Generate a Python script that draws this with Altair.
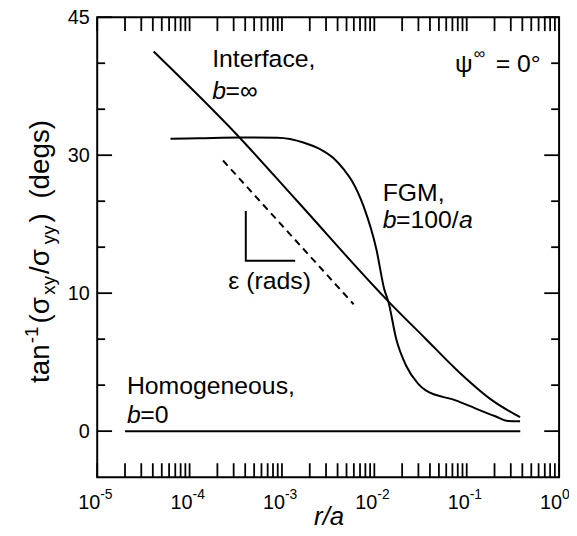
import altair as alt
import pandas as pd

W, H = 466, 464
X0, Y0 = 98, 15
FONT = "Liberation Sans"

# ---- data (r/a, degrees) ----
int_r = [4.08e-5, 3.49e-4, 1.46e-3, 1.416e-2, 3.61e-2, 8.17e-2, 0.189, 0.378]
int_deg = [41.27, 31.9, 23.36, 9.41, 6.68, 4.31, 2.23, 1.01]

fgm_r = [6.21e-5, 1.24e-4, 3.49e-4, 8.93e-4, 1.738e-3, 2.583e-3, 3.648e-3,
         4.67e-3, 5.69e-3, 7.64e-3, 1.055e-2, 1.282e-2, 1.416e-2,
         1.726e-2, 2.21e-2, 2.97e-2, 3.61e-2, 7.59e-2, 0.124, 0.204, 0.281, 0.378]
fgm_deg = [31.79, 31.84, 31.93, 31.9, 31.36, 30.66, 29.51,
           27.93, 26.35, 22.61, 16.29, 10.55, 9.41,
           6.68, 4.74, 3.45, 2.95, 2.23, 1.65, 1.08, 0.74, 0.72]

hom_r = [2e-5, 0.38]
hom_deg = [0, 0]

dash_r = [2.30e-4, 5.97e-3]
dash_deg = [29.23, 9.20]

tri_r = [4.06e-4, 4.06e-4, 1.39e-3]
tri_deg = [21.9, 14.71, 14.71]

decades = [1e-5, 1e-4, 1e-3, 1e-2, 1e-1, 1.0]
exponents = ["-5", "-4", "-3", "-2", "-1", "0"]
mantissas = [1, 2, 3, 4, 5, 6, 7, 8, 9]

y_major = [0, 10, 30, 45]
y_minor = [10 / 3, 20 / 3, 50 / 3, 70 / 3, 35, 40]

# ---- scales ----
xscale = alt.Scale(type="log", domain=[1e-5, 1], nice=False)
yscale = alt.Scale(type="linear", domain=[-10 / 3, 0, 10, 30, 45],
                   range=[H, H * 0.9, H * 0.6, H * 0.3, 0], nice=False, zero=False)
xaxis = alt.Axis(labels=False, ticks=False, domain=False, grid=False, title=None)
yaxis = alt.Axis(values=y_major, ticks=False, tickSize=0, domain=False, grid=False,
                 title=None, labelFontSize=20, labelPadding=8, labelFont=FONT,
                 labelColor="black")

X = alt.X("r:Q", scale=xscale, axis=xaxis)
Y = alt.Y("deg:Q", scale=yscale, axis=yaxis)


def curve(rs, ds, dash=None, interp="monotone"):
    df = pd.DataFrame({"r": rs, "deg": ds})
    kw = dict(color="black", strokeWidth=2, interpolate=interp)
    if dash:
        kw["strokeDash"] = dash
    return alt.Chart(df).mark_line(**kw).encode(x=X, y=Y)


def label(text, px, py, size=25, style="normal", align="left", angle=0):
    return alt.Chart(alt.Data(values=[{}])).mark_text(
        text=text, align=align, baseline="alphabetic", fontSize=size,
        fontStyle=style, font=FONT, color="black", angle=angle
    ).encode(x=alt.value(px - X0), y=alt.value(py - Y0))


layers = []
layers.append(curve(int_r, int_deg))
layers.append(curve(fgm_r, fgm_deg))
layers.append(curve(hom_r, hom_deg, interp="linear"))
layers.append(curve(dash_r, dash_deg, dash=[7, 5], interp="linear"))
tri = pd.DataFrame({"r": tri_r, "deg": tri_deg, "o": [0, 1, 2]})
layers.append(alt.Chart(tri).mark_line(color="black", strokeWidth=2).encode(
    x=X, y=Y, order="o:Q"))

# x ticks (inward, bottom & top)
xt = pd.DataFrame({"r": [m * d for d in decades[:-1] for m in mantissas] + [1.0]})
layers.append(alt.Chart(xt).mark_rule(color="black", strokeWidth=1.8).encode(
    x=X, y=alt.value(H), y2=alt.value(H - 14)))
layers.append(alt.Chart(xt).mark_rule(color="black", strokeWidth=1.8).encode(
    x=X, y=alt.value(0), y2=alt.value(14)))

# y ticks (inward, left & right)
ymaj = pd.DataFrame({"deg": y_major})
ymin = pd.DataFrame({"deg": y_minor})
for df, ln in ((ymaj, 15), (ymin, 8)):
    layers.append(alt.Chart(df).mark_rule(color="black", strokeWidth=1.8).encode(
        y=Y, x=alt.value(0), x2=alt.value(ln)))
    layers.append(alt.Chart(df).mark_rule(color="black", strokeWidth=1.8).encode(
        y=Y, x=alt.value(W), x2=alt.value(W - ln)))

# x tick labels 10^n
xl = pd.DataFrame({"r": decades, "e": exponents})
layers.append(alt.Chart(xl).mark_text(
    text="10", align="right", baseline="alphabetic", fontSize=20, font=FONT,
    color="black", dx=3).encode(x=X, y=alt.value(511 - Y0)))
layers.append(alt.Chart(xl).mark_text(
    align="left", baseline="alphabetic", fontSize=14, font=FONT,
    color="black", dx=3).encode(x=X, y=alt.value(501 - Y0), text="e:N"))

# axis titles
layers.append(label("r/a", 332, 527, size=26, style="italic", align="center"))
BX = 49
layers += [
    label("tan", BX, 384, size=28, angle=270),
    label("-1", BX - 11, 344, size=19, angle=270),
    label("(σ", BX, 324, size=28, angle=270),
    label("xy", BX + 6, 295, size=19, angle=270),
    label("/σ", BX, 274, size=28, angle=270),
    label("yy", BX + 6, 244, size=19, angle=270),
    label(")", BX, 222, size=28, angle=270),
    label("(degs)", BX, 198, size=28, angle=270),
]

# annotations
layers += [
    label("Interface,", 214, 65),
    label("b", 214, 97, style="italic"),
    label("=∞", 227.5, 97),
    label("ψ", 459, 70),
    label("∞", 478, 57, size=16),
    label("= 0°", 500, 70),
    label("FGM,", 386, 200),
    label("b", 386, 228, style="italic"),
    label("=100/", 399.5, 228),
    label("a", 463, 228, style="italic"),
    label("Homogeneous,", 128, 395),
    label("b", 128, 424, style="italic"),
    label("=0", 141.5, 424),
    label("ε (rads)", 272, 289, align="center"),
]

chart = alt.layer(*layers).properties(
    width=W, height=H,
    autosize=alt.AutoSizeParams(type="none"),
    padding={"left": 90, "top": 7, "right": 10, "bottom": 49},
    background="white",
).configure_view(stroke="black", strokeWidth=2)

chart.save("out.html", embed_options={"renderer": "svg", "actions": False})
